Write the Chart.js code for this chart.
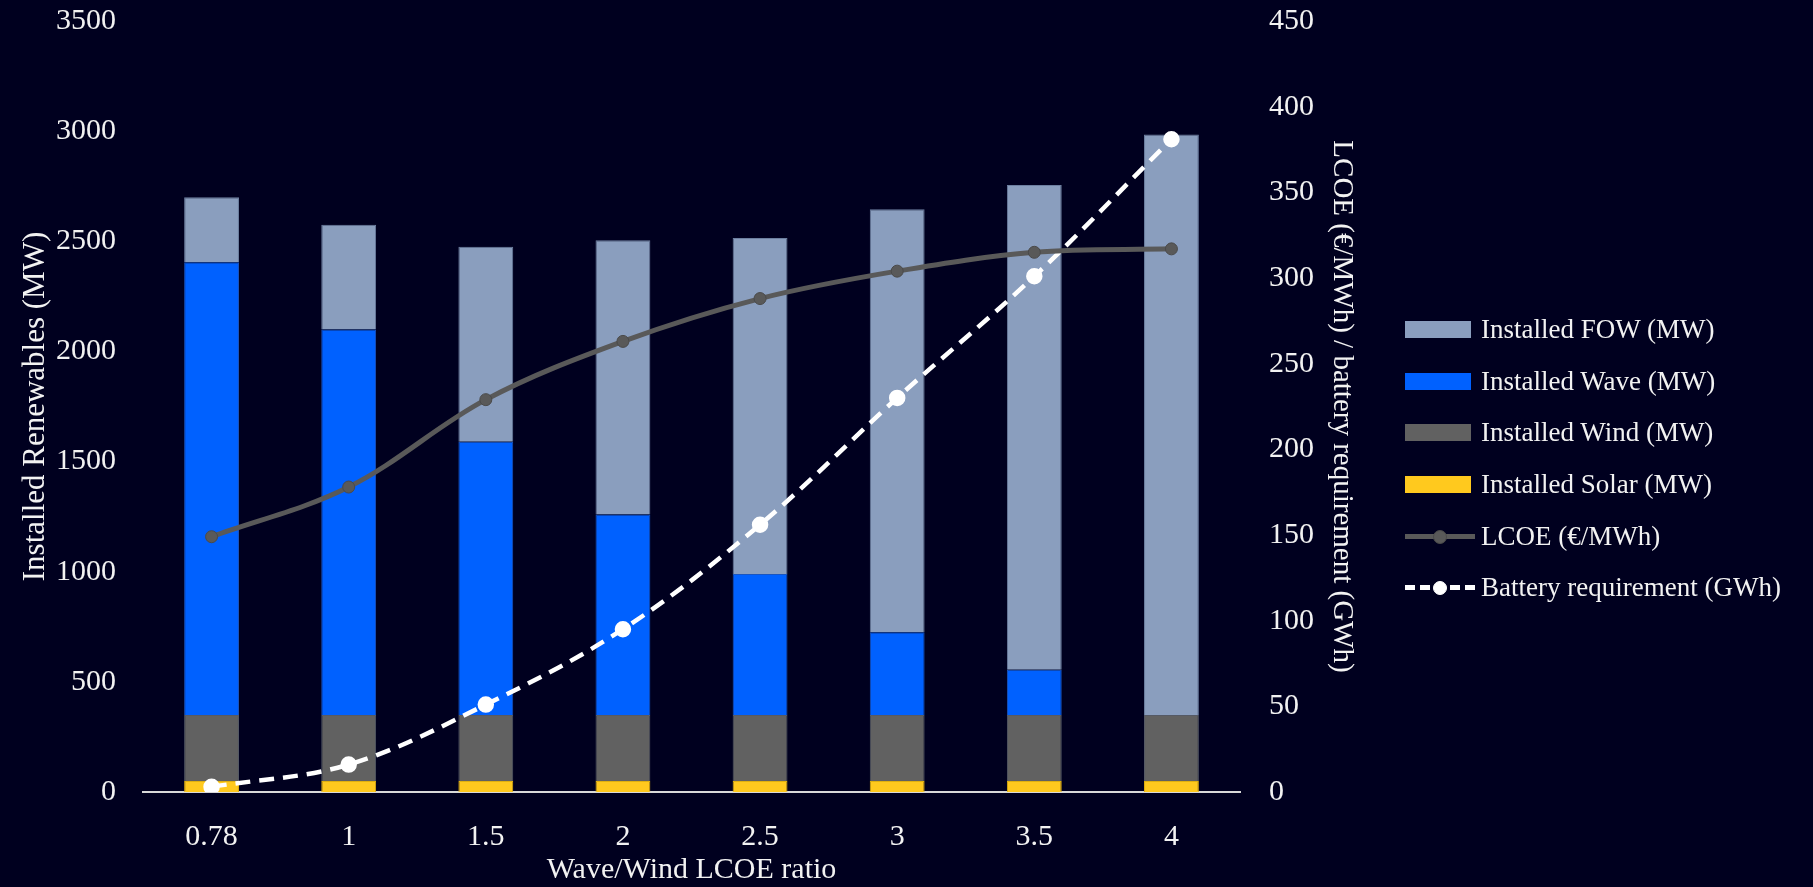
<!DOCTYPE html>
<html lang="en">
<head>
  <meta charset="UTF-8">
  <title>Installed renewables vs Wave/Wind LCOE ratio</title>
  <script src="https://cdn.jsdelivr.net/npm/chart.js"></script>
  <style>
    body { margin: 0; background: #00001f; overflow: hidden; }
    #wrap { position: relative; width: 1813px; height: 887px; }
    #legenda { position: absolute; left: 1405px; top: 304px; font-family: "Liberation Serif", serif; font-size: 27px; color: #f2f2f2; }
    .item { height: 51.6px; display: flex; align-items: center; }
    .box { width: 66px; height: 17px; margin-right: 10px; }
    .linha { position: relative; width: 70px; height: 17px; margin-right: 6px; }
    .linha .traco { position: absolute; left: 0; right: 0; top: 6px; border-top: 5px solid #595959; }
    .linha .ponto { position: absolute; left: 28px; top: 2px; width: 12px; height: 12px; border-radius: 50%; background: #595959; border: 1px solid #4a4a4a; }
    .linha.bat .traco { border-top: 5px dashed #ffffff; }
    .linha.bat .ponto { background: #fff; border-color: #fff; }
  </style>
</head>
<body>
<div id="wrap">
  <canvas id="grafico" width="1813" height="887"></canvas>
  <div id="legenda">
    <div class="item"><div class="box" style="background:#8a9ebe"></div>Installed FOW (MW)</div>
    <div class="item"><div class="box" style="background:#0061ff"></div>Installed Wave (MW)</div>
    <div class="item"><div class="box" style="background:#616161"></div>Installed Wind (MW)</div>
    <div class="item"><div class="box" style="background:#ffc91e"></div>Installed Solar (MW)</div>
    <div class="item"><div class="linha"><div class="traco"></div><div class="ponto"></div></div>LCOE (€/MWh)</div>
    <div class="item"><div class="linha bat"><div class="traco"></div><div class="ponto"></div></div>Battery requirement (GWh)</div>
  </div>
</div>
<script>
  // categorias (eixo x)
  var razoes = ['0.78', '1', '1.5', '2', '2.5', '3', '3.5', '4']

  // MW instalados (empilhados)
  var solar = [50, 50, 50, 50, 50, 50, 50, 50]
  var eolica = [300, 300, 300, 300, 300, 300, 300, 300]
  var ondas = [2055, 1750, 1240, 910, 640, 375, 205, 0]
  var fow = [295, 475, 885, 1245, 1525, 1920, 2200, 2635]

  // eixo da direita
  var lcoe = [149, 178, 229, 263, 288, 304, 315, 317]
  var bateria = [3, 16, 51, 95, 156, 230, 301, 381]

  var fonteTicks = { family: 'Liberation Serif', size: 30 }
  var corTexto = '#f2f2f2'

  function barra(nome, valores, cor, borda) {
    return {
      type: 'bar',
      label: nome,
      data: valores,
      backgroundColor: cor,
      borderColor: borda,
      borderWidth: 1,
      yAxisID: 'y',
      stack: 'mw',
      order: 2,
      barPercentage: 0.4,
      categoryPercentage: 1
    }
  }

  // fixa o tamanho dos eixos (o padding dos ticks nao deve empurrar o topo)
  function larguraFixa(w) {
    return function (scale) {
      scale.width = w
      scale.paddingTop = 0
      scale.paddingBottom = 0
    }
  }

  const config = {
    data: {
      labels: razoes,
      datasets: [
        barra('Installed Solar (MW)', solar, '#ffc91e', '#e0b010'),
        barra('Installed Wind (MW)', eolica, '#616161', '#555a66'),
        barra('Installed Wave (MW)', ondas, '#0061ff', '#1a55c0'),
        barra('Installed FOW (MW)', fow, '#8a9ebe', '#6c7fa0'),
        {
          type: 'line',
          label: 'LCOE (€/MWh)',
          data: lcoe,
          yAxisID: 'y2',
          order: 0,
          borderColor: '#595959',
          borderWidth: 5,
          tension: 0.35,
          pointRadius: 6,
          pointBackgroundColor: '#595959',
          pointBorderColor: '#4a4a4a',
          pointBorderWidth: 1
        },
        {
          type: 'line',
          label: 'Battery requirement (GWh)',
          data: bateria,
          yAxisID: 'y2',
          order: 1,
          borderColor: '#ffffff',
          borderWidth: 4.5,
          borderDash: [15, 9],
          tension: 0.35,
          pointRadius: 6,
          pointBackgroundColor: '#ffffff',
          pointBorderColor: '#ffffff'
        }
      ]
    },
    options: {
      responsive: false,
      animation: false,
      layout: { autoPadding: false, padding: { left: 17, right: 453, top: 21, bottom: 2 } },
      plugins: {
        legend: { display: false },
        tooltip: { enabled: false }
      },
      scales: {
        x: {
          grid: { display: false },
          border: { color: '#d9d9d9', width: 2 },
          ticks: { color: corTexto, font: fonteTicks, padding: 19 },
          title: { display: true, text: 'Wave/Wind LCOE ratio', color: corTexto, font: { family: 'Liberation Serif', size: 30, lineHeight: 1 }, padding: { top: 6, bottom: 0 } },
          afterFit: function (scale) { scale.height = 93; scale.paddingLeft = 0; scale.paddingRight = 0 }
        },
        y: {
          position: 'left',
          min: 0,
          max: 3500,
          stacked: true,
          grid: { display: false },
          border: { display: false },
          ticks: { stepSize: 500, color: corTexto, font: fonteTicks, padding: 19, callback: function (v) { return String(v) } },
          title: { display: true, text: 'Installed Renewables (MW)', color: corTexto, font: { family: 'Liberation Serif', size: 31, lineHeight: 1 }, padding: 3 },
          afterFit: larguraFixa(126)
        },
        y2: {
          position: 'right',
          min: 0,
          max: 450,
          grid: { display: false },
          border: { display: false },
          ticks: { stepSize: 50, color: corTexto, font: fonteTicks, padding: 21, callback: function (v) { return String(v) } },
          title: { display: true, text: 'LCOE (€/MWh) / battery requirement (GWh)', color: corTexto, font: { family: 'Liberation Serif', size: 29, lineHeight: 1 }, padding: 4 },
          afterFit: larguraFixa(120)
        }
      }
    }
  }

  const meuGrafico = new Chart(document.getElementById('grafico'), config)
</script>
</body>
</html>
